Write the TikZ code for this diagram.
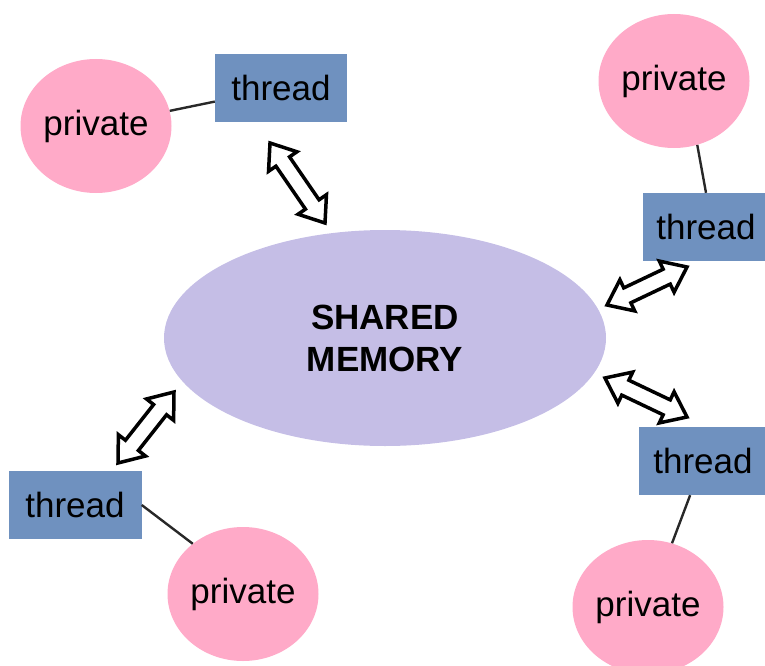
\documentclass[tikz,border=0pt]{standalone}
\usepackage{fontspec}
\setmainfont{Liberation Sans}
\usetikzlibrary{shapes.geometric,shapes.arrows,calc}

\definecolor{memlilac}{RGB}{197,190,230}
\definecolor{privpink}{RGB}{255,170,200}
\definecolor{thrblue}{RGB}{111,145,191}
\definecolor{linkgray}{RGB}{40,40,40}

\tikzset{
    thread/.style={rectangle, fill=thrblue, minimum width=132pt, minimum height=68pt, inner sep=0pt, font=\fontsize{35}{42}\selectfont},
    private/.style={ellipse, fill=privpink, minimum width=151pt, minimum height=134pt, inner sep=0pt, font=\fontsize{35}{42}\selectfont},
    link/.style={draw=linkgray, line width=2.4pt},
    hollow/.style={to path={let \p1=($(\tikztotarget)-(\tikztostart)$), \n1={veclen(\x1,\y1)} in (\tikztostart) -- (\tikztotarget) node[midway, sloped, double arrow, draw=black, line width=3.5pt, fill=white, inner xsep=0pt, inner ysep=6.5pt, minimum height=\n1, double arrow head extend=9pt, double arrow tip angle=75] {}}}
}

\begin{document}
\begin{tikzpicture}[x=1pt, y=-1pt]
        \useasboundingbox (0, 0) rectangle (765, 666);
        \node[ellipse, fill=memlilac, minimum width=442pt, minimum height=216pt, align=center, font=\bfseries\fontsize{35}{42}\selectfont] (mem) at (385, 338) {SHARED\\MEMORY};
        \node[thread] (t1) at (281, 88) {thread};
        \node[thread, minimum width=127pt] (t2) at (706, 227) {thread};
        \node[thread, minimum width=128pt] (t3) at (703, 461) {thread};
        \node[thread, minimum width=133pt] (t4) at (75, 505) {thread};
        \node[private] (p1) at (96, 126) {private};
        \node[private] (p2) at (674, 81) {private};
        \node[private] (p3) at (648, 607) {private};
        \node[private] (p4) at (243, 594) {private};
        \draw[link] (p1) -- (t1);
        \draw[link] (p2.-70) -- (t2.north);
        \draw[link] (t3) -- (p3);
        \draw[link] (t4.east) -- (p4.135);
        \coordinate (a1s) at (270, 143);
        \coordinate (a1e) at (325, 223);
        \coordinate (a2s) at (607, 305);
        \coordinate (a2e) at (687, 267);
        \coordinate (a3s) at (118, 463);
        \coordinate (a3e) at (174, 392);
        \coordinate (a4s) at (605, 378);
        \coordinate (a4e) at (687, 417);
        \path (a1s) to[hollow] (a1e);
        \path (a2s) to[hollow] (a2e);
        \path (a3s) to[hollow] (a3e);
        \path (a4s) to[hollow] (a4e);
    \end{tikzpicture}
\end{document}
